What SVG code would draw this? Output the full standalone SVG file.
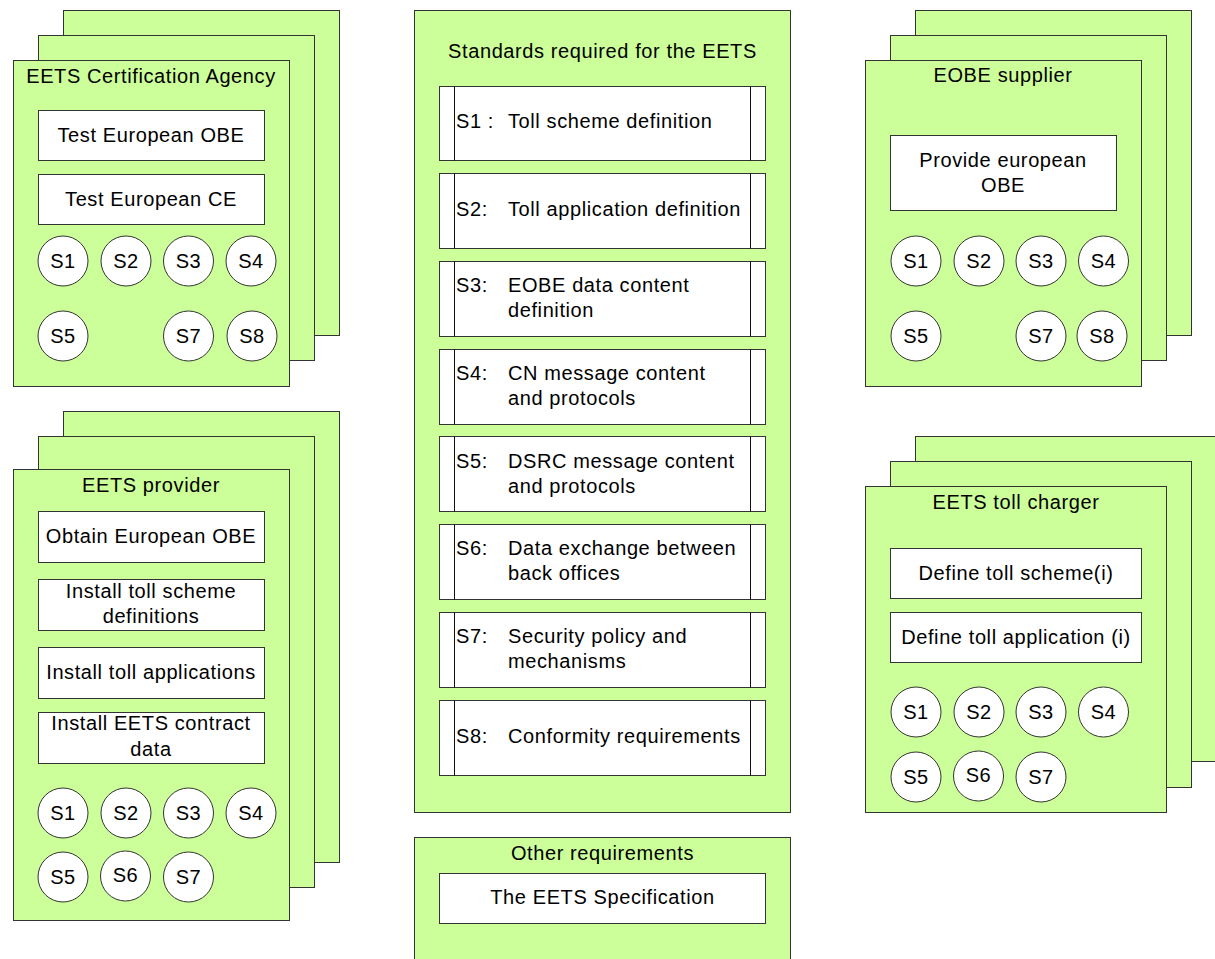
<svg xmlns="http://www.w3.org/2000/svg" width="1215" height="959" viewBox="0 0 1215 959">
  <style>
    .sheet { fill: #ccff99; stroke: #333333; stroke-width: 1; }
    .box { fill: #ffffff; stroke: #333333; stroke-width: 1; }
    .bar { fill: none; stroke: #111111; stroke-width: 1; }
    .std { fill: #ffffff; stroke: #333333; stroke-width: 1; }
    text { font-family: "Liberation Sans", Arial, sans-serif; font-size: 20px; letter-spacing: 0.6px; fill: #000000; }
    .c { text-anchor: middle; }
  </style>
  <defs>
    <g id="badge">
      <circle cx="0" cy="0" r="25" fill="#ffffff" stroke="#333333" stroke-width="1"/>
    </g>
  </defs>
  <rect width="1215" height="959" fill="#ffffff"/>

  <!-- Certification agency: three stacked sheets -->
  <g id="certification-agency">
    <rect class="sheet" x="63.5" y="10.5" width="276" height="325"/>
    <rect class="sheet" x="38.5" y="35.5" width="276" height="325"/>
    <rect class="sheet" x="13.5" y="60.5" width="276" height="326"/>
    <text class="c" x="151" y="83">EETS Certification Agency</text>
    <rect class="box" x="38.5" y="110.5" width="226" height="50"/>
    <text class="c" x="151" y="142">Test European OBE</text>
    <rect class="box" x="38.5" y="174.5" width="226" height="50"/>
    <text class="c" x="151" y="206">Test European CE</text>
    <use href="#badge" x="63" y="261"/><text class="c" x="63" y="268">S1</text>
    <use href="#badge" x="126" y="261"/><text class="c" x="126" y="268">S2</text>
    <use href="#badge" x="188.5" y="261"/><text class="c" x="188.5" y="268">S3</text>
    <use href="#badge" x="251" y="261"/><text class="c" x="251" y="268">S4</text>
    <use href="#badge" x="63" y="336"/><text class="c" x="63" y="343">S5</text>
    <use href="#badge" x="188.5" y="336"/><text class="c" x="188.5" y="343">S7</text>
    <use href="#badge" x="252" y="336"/><text class="c" x="252" y="343">S8</text>
  </g>

  <!-- EETS provider -->
  <g id="eets-provider">
    <rect class="sheet" x="63.5" y="411.5" width="276" height="451"/>
    <rect class="sheet" x="38.5" y="436.5" width="276" height="451"/>
    <rect class="sheet" x="13.5" y="469.5" width="276" height="451"/>
    <text class="c" x="151" y="492">EETS provider</text>
    <rect class="box" x="38.5" y="511.5" width="226" height="51"/>
    <text class="c" x="151" y="543">Obtain European OBE</text>
    <rect class="box" x="38.5" y="579.5" width="226" height="51"/>
    <text class="c" x="151" y="598">Install toll scheme</text>
    <text class="c" x="151" y="623">definitions</text>
    <rect class="box" x="38.5" y="647.5" width="226" height="51"/>
    <text class="c" x="151" y="679">Install toll applications</text>
    <rect class="box" x="38.5" y="712.5" width="226" height="51"/>
    <text class="c" x="151" y="730">Install EETS contract</text>
    <text class="c" x="151" y="756">data</text>
    <use href="#badge" x="63" y="813"/><text class="c" x="63" y="820">S1</text>
    <use href="#badge" x="126" y="813"/><text class="c" x="126" y="820">S2</text>
    <use href="#badge" x="188.5" y="813"/><text class="c" x="188.5" y="820">S3</text>
    <use href="#badge" x="251" y="813"/><text class="c" x="251" y="820">S4</text>
    <use href="#badge" x="63" y="877"/><text class="c" x="63" y="884">S5</text>
    <use href="#badge" x="125.5" y="876"/><text class="c" x="125.5" y="882">S6</text>
    <use href="#badge" x="188.5" y="877"/><text class="c" x="188.5" y="884">S7</text>
  </g>

  <!-- Standards list -->
  <g id="standards">
    <rect class="sheet" x="414.5" y="10.5" width="376" height="802"/>
    <text class="c" x="602.5" y="58">Standards required for the EETS</text>

    <rect class="std" x="439.5" y="86.5" width="326" height="74"/>
    <path class="bar" d="M454.5 86.5V160.5M750.5 86.5V160.5"/>
    <text x="456" y="128">S1 :</text><text x="508" y="128">Toll scheme definition</text>

    <rect class="std" x="439.5" y="173.5" width="326" height="75"/>
    <path class="bar" d="M454.5 173.5V248.5M750.5 173.5V248.5"/>
    <text x="456" y="215.5">S2:</text><text x="508" y="215.5">Toll application definition</text>

    <rect class="std" x="439.5" y="261.5" width="326" height="75"/>
    <path class="bar" d="M454.5 261.5V336.5M750.5 261.5V336.5"/>
    <text x="456" y="292">S3:</text><text x="508" y="292">EOBE data content</text>
    <text x="508" y="317">definition</text>

    <rect class="std" x="439.5" y="349.5" width="326" height="75"/>
    <path class="bar" d="M454.5 349.5V424.5M750.5 349.5V424.5"/>
    <text x="456" y="380">S4:</text><text x="508" y="380">CN message content</text>
    <text x="508" y="405">and protocols</text>

    <rect class="std" x="439.5" y="436.5" width="326" height="75"/>
    <path class="bar" d="M454.5 436.5V511.5M750.5 436.5V511.5"/>
    <text x="456" y="468">S5:</text><text x="508" y="468">DSRC message content</text>
    <text x="508" y="493">and protocols</text>

    <rect class="std" x="439.5" y="524.5" width="326" height="75"/>
    <path class="bar" d="M454.5 524.5V599.5M750.5 524.5V599.5"/>
    <text x="456" y="555">S6:</text><text x="508" y="555">Data exchange between</text>
    <text x="508" y="580">back offices</text>

    <rect class="std" x="439.5" y="612.5" width="326" height="75"/>
    <path class="bar" d="M454.5 612.5V687.5M750.5 612.5V687.5"/>
    <text x="456" y="643">S7:</text><text x="508" y="643">Security policy and</text>
    <text x="508" y="668">mechanisms</text>

    <rect class="std" x="439.5" y="700.5" width="326" height="75"/>
    <path class="bar" d="M454.5 700.5V775.5M750.5 700.5V775.5"/>
    <text x="456" y="743">S8:</text><text x="508" y="743">Conformity requirements</text>
  </g>

  <!-- Other requirements -->
  <g id="other-requirements">
    <rect class="sheet" x="414.5" y="837.5" width="376" height="130"/>
    <text class="c" x="602.5" y="860">Other requirements</text>
    <rect class="box" x="439.5" y="873.5" width="326" height="50"/>
    <text class="c" x="602.5" y="904">The EETS Specification</text>
  </g>

  <!-- EOBE supplier -->
  <g id="eobe-supplier">
    <rect class="sheet" x="915.5" y="10.5" width="276" height="325"/>
    <rect class="sheet" x="890.5" y="35.5" width="276" height="325"/>
    <rect class="sheet" x="865.5" y="60.5" width="276" height="326"/>
    <text class="c" x="1003" y="82">EOBE supplier</text>
    <rect class="box" x="890.5" y="135.5" width="226" height="75"/>
    <text class="c" x="1003" y="166.5">Provide european</text>
    <text class="c" x="1003" y="191.5">OBE</text>
    <use href="#badge" x="916" y="261"/><text class="c" x="916" y="268">S1</text>
    <use href="#badge" x="979" y="261"/><text class="c" x="979" y="268">S2</text>
    <use href="#badge" x="1041" y="261"/><text class="c" x="1041" y="268">S3</text>
    <use href="#badge" x="1103.5" y="261"/><text class="c" x="1103.5" y="268">S4</text>
    <use href="#badge" x="916" y="336"/><text class="c" x="916" y="343">S5</text>
    <use href="#badge" x="1041" y="336"/><text class="c" x="1041" y="343">S7</text>
    <use href="#badge" x="1102" y="336"/><text class="c" x="1102" y="343">S8</text>
  </g>

  <!-- EETS toll charger -->
  <g id="eets-toll-charger">
    <rect class="sheet" x="915.5" y="436.5" width="320" height="325"/>
    <rect class="sheet" x="890.5" y="461.5" width="301" height="326"/>
    <rect class="sheet" x="865.5" y="486.5" width="301" height="326"/>
    <text class="c" x="1016" y="509">EETS toll charger</text>
    <rect class="box" x="890.5" y="548.5" width="251" height="50"/>
    <text class="c" x="1016" y="580">Define toll scheme(i)</text>
    <rect class="box" x="890.5" y="612.5" width="251" height="50"/>
    <text class="c" x="1016" y="644">Define toll application (i)</text>
    <use href="#badge" x="916" y="712"/><text class="c" x="916" y="719">S1</text>
    <use href="#badge" x="979" y="712"/><text class="c" x="979" y="719">S2</text>
    <use href="#badge" x="1041" y="712"/><text class="c" x="1041" y="719">S3</text>
    <use href="#badge" x="1103.5" y="712"/><text class="c" x="1103.5" y="719">S4</text>
    <use href="#badge" x="916" y="777"/><text class="c" x="916" y="784">S5</text>
    <use href="#badge" x="978.5" y="776"/><text class="c" x="978.5" y="782">S6</text>
    <use href="#badge" x="1041" y="777"/><text class="c" x="1041" y="784">S7</text>
  </g>

  <!-- no connectors are drawn between the groups -->
  <g id="connectors"/>
</svg>
